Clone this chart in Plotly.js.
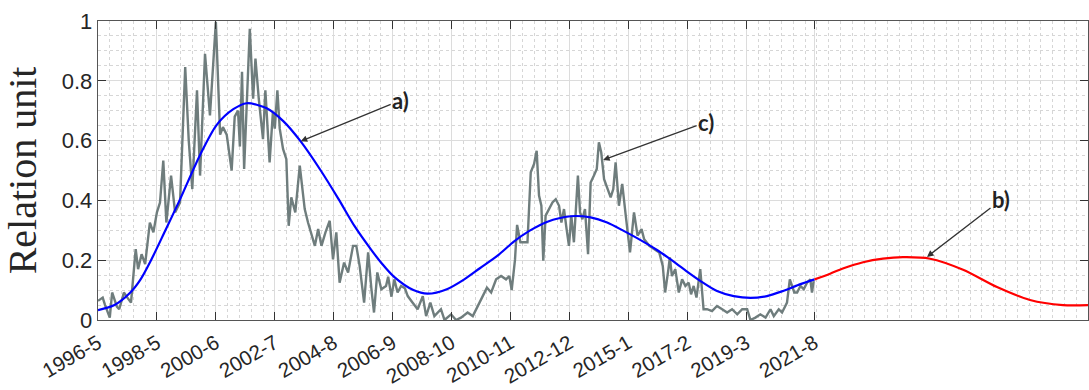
<!DOCTYPE html>
<html>
<head>
<meta charset="utf-8">
<script src="https://cdn.plot.ly/plotly-3.0.1.min.js"></script>
<style>html,body{margin:0;padding:0;background:#fff;}#chart{width:1089px;height:390px;}</style>
</head>
<body>
<div id="chart"></div>
<script>
// Month index: 1 = 1996-5
const tickMonths = [0, 25, 50, 75, 100, 125, 150, 175, 200, 225, 250, 275, 304];
const tickLabels = ['1996-5','1998-5','2000-6','2002-7','2004-8','2006-9','2008-10','2010-11','2012-12','2015-1','2017-2','2019-3','2021-8'];

// Observed series (grey)
const obsMonths = [0,2,3,5,6,8,9,11,12,14,16,17,18.5,20,22,23.5,25,26.3,27.7,29,31,32.7,34.8,37,38.5,40,42,43.3,45.4,47.5,50,51.8,53,54.6,56.7,58,59.4,60.2,61.1,62,64.4,65.8,66.8,68.2,70,71,72.8,74.2,75,76.1,77.1,78.5,79.9,80.9,82,83.7,85.6,86.6,87.7,89.1,92,93.4,94.8,96.5,98.3,99.7,101.1,102.5,104.4,106.1,108.2,109.6,111,112.9,114.6,116,117.1,118.5,120.2,122.2,123.1,124.5,125.7,127.1,128.6,130.2,131.4,133.5,135.6,137.8,139.2,141,142.7,145.5,147,149.8,151.9,154,156.8,159,161.1,163.2,165,166.8,168.9,171,173.1,174.5,175.5,176.9,177.8,179.2,180.8,182.2,183.6,185,186.1,187.1,188.1,188.9,189.9,191.3,192.8,194.2,195.6,196.6,197.7,198.8,199.8,200.8,201.9,203.6,204.5,205.5,206.6,207.9,209,210.4,211.6,212.5,213.5,214.7,216.1,217.5,218.6,219.6,221,222.4,223.9,225.7,227.4,228.9,230.6,231.7,233.9,236,238.1,239.6,240.6,242,242.6,243.5,244.9,246.4,247.8,249.2,250.6,251.6,252.7,253.9,255.5,256.9,258.4,260.5,262.6,264.8,266.9,269,271.2,273.3,275.4,276.8,278.9,281,283.2,285.3,286.7,288.8,290.2,291.6,292.3,293.5,294.4,295.4,296.6,298,299.4,300.8,302.2,302.9,303.6];
const obsValues = [0.064,0.075,0.05,0.008,0.092,0.045,0.036,0.092,0.08,0.058,0.237,0.17,0.22,0.187,0.326,0.293,0.36,0.393,0.533,0.326,0.483,0.36,0.393,0.846,0.6,0.438,0.768,0.483,0.89,0.684,0.997,0.62,0.645,0.62,0.5,0.68,0.7,0.58,0.83,0.505,0.974,0.74,0.874,0.74,0.605,0.768,0.527,0.695,0.64,0.768,0.64,0.572,0.538,0.315,0.41,0.36,0.516,0.438,0.371,0.326,0.248,0.304,0.248,0.293,0.332,0.203,0.293,0.125,0.192,0.159,0.248,0.248,0.181,0.058,0.226,0.103,0.025,0.159,0.103,0.114,0.145,0.078,0.136,0.092,0.114,0.106,0.08,0.058,0.036,0.08,0.013,0.058,0.013,0.036,0.0,0.019,0.0,0.008,0.025,0.013,0.047,0.08,0.108,0.092,0.136,0.147,0.136,0.147,0.1,0.201,0.318,0.26,0.26,0.26,0.494,0.522,0.566,0.416,0.382,0.198,0.349,0.371,0.393,0.404,0.382,0.326,0.371,0.304,0.248,0.349,0.26,0.483,0.36,0.337,0.371,0.22,0.46,0.483,0.505,0.594,0.56,0.471,0.438,0.41,0.438,0.527,0.382,0.455,0.349,0.226,0.36,0.282,0.304,0.27,0.248,0.237,0.226,0.181,0.092,0.17,0.209,0.147,0.17,0.092,0.136,0.114,0.125,0.086,0.114,0.075,0.17,0.036,0.036,0.03,0.047,0.036,0.025,0.036,0.019,0.036,0.036,0.0,0.008,0.019,0.008,0.036,0.013,0.036,0.025,0.047,0.058,0.136,0.114,0.092,0.092,0.114,0.103,0.125,0.136,0.092,0.13];

// Fitted curve (blue)
const fitMonths = [0,7,13.5,18,22.5,28,34.6,43.3,50.3,57.4,63.1,71.6,78.6,85.9,94.5,102,109,115.7,120.5,125.5,133.8,139.8,148,155.4,162,169.5,176.4,183,190.4,200.5,209,216,223,230,237,241.6,248.5,255.5,262.6,269.7,276.8,283.8,290.9,298,304];
const fitValues = [0.033,0.05,0.09,0.135,0.2,0.29,0.4,0.552,0.652,0.705,0.725,0.708,0.665,0.598,0.5,0.405,0.312,0.237,0.188,0.145,0.1,0.088,0.103,0.136,0.173,0.215,0.262,0.298,0.328,0.347,0.343,0.326,0.298,0.268,0.235,0.21,0.17,0.131,0.097,0.08,0.074,0.08,0.098,0.12,0.136];

// Forecast (red)
const forecastMonths = [304,310.6,316,324.6,333,341.5,353,367,381.4,395.4,409.4,420];
const forecastValues = [0.136,0.155,0.172,0.193,0.205,0.21,0.205,0.168,0.11,0.067,0.05,0.05];

const traces = [
  {x: obsMonths, y: obsValues, type: 'scatter', mode: 'lines', line: {color: '#6f7d7d', width: 2.4}, hoverinfo: 'skip'},
  {x: fitMonths, y: fitValues, type: 'scatter', mode: 'lines', line: {color: '#0000ff', width: 2.2, shape: 'spline', smoothing: 0.8}, hoverinfo: 'skip'},
  {x: forecastMonths, y: forecastValues, type: 'scatter', mode: 'lines', line: {color: '#ff0000', width: 2.2, shape: 'spline', smoothing: 0.8}, hoverinfo: 'skip'}
];

const annFont = {family: 'Lato, "Open Sans", sans-serif', size: 22, color: '#222'};
const xTickFont = {family: '"Liberation Sans", Arial, sans-serif', size: 20.5, color: '#262626'};
const yTickFont = {family: '"Liberation Sans", Arial, sans-serif', size: 22, color: '#262626'};
const layout = {
  width: 1089, height: 390,
  margin: {l: 98, r: 1, t: 21, b: 70},
  paper_bgcolor: '#ffffff', plot_bgcolor: '#ffffff',
  showlegend: false,
  font: xTickFont,
  xaxis: {
    range: [0, 420], tickmode: 'array', tickvals: tickMonths, ticktext: tickLabels,
    tickangle: -30, ticks: 'inside', ticklen: 8, tickcolor: '#333', ticklabelstandoff: 2,
    showline: true, linecolor: '#555', linewidth: 1.3, mirror: 'ticks',
    showgrid: true, gridcolor: '#dcdcdc', gridwidth: 1, zeroline: false,
    tickfont: xTickFont,
    minor: {tickmode: 'linear', tick0: 0, dtick: 5, showgrid: true, gridcolor: '#d6d6d6', griddash: 'dot', gridwidth: 1, ticks: ''}
  },
  yaxis: {
    range: [0, 1], tickmode: 'linear', tick0: 0, dtick: 0.2,
    ticks: 'inside', ticklen: 8, tickcolor: '#333',
    showline: true, linecolor: '#555', linewidth: 1.3, mirror: 'ticks',
    showgrid: true, gridcolor: '#dcdcdc', gridwidth: 1, zeroline: false,
    tickfont: yTickFont,
    minor: {tickmode: 'linear', tick0: 0, dtick: 0.05, showgrid: true, gridcolor: '#d6d6d6', griddash: 'dot', gridwidth: 1, ticks: ''},
    title: {text: 'Relation unit', font: {family: '"Liberation Serif", "Times New Roman", serif', size: 40, color: '#262626'}, standoff: 16}
  },
  annotations: [
    {x: 86, y: 0.598, xref: 'x', yref: 'y', text: '<b>a)</b>', font: annFont, showarrow: true, arrowhead: 2, arrowsize: 1, arrowwidth: 1.3, arrowcolor: '#333', ax: 100, ay: -41},
    {x: 214.3, y: 0.535, xref: 'x', yref: 'y', text: '<b>c)</b>', font: annFont, showarrow: true, arrowhead: 2, arrowsize: 1, arrowwidth: 1.3, arrowcolor: '#333', ax: 103, ay: -38},
    {x: 351.7, y: 0.211, xref: 'x', yref: 'y', text: '<b>b)</b>', font: annFont, showarrow: true, arrowhead: 2, arrowsize: 1, arrowwidth: 1.3, arrowcolor: '#333', ax: 74, ay: -57}
  ]
};

Plotly.newPlot('chart', traces, layout, {displayModeBar: false, staticPlot: true});
</script>
</body>
</html>
